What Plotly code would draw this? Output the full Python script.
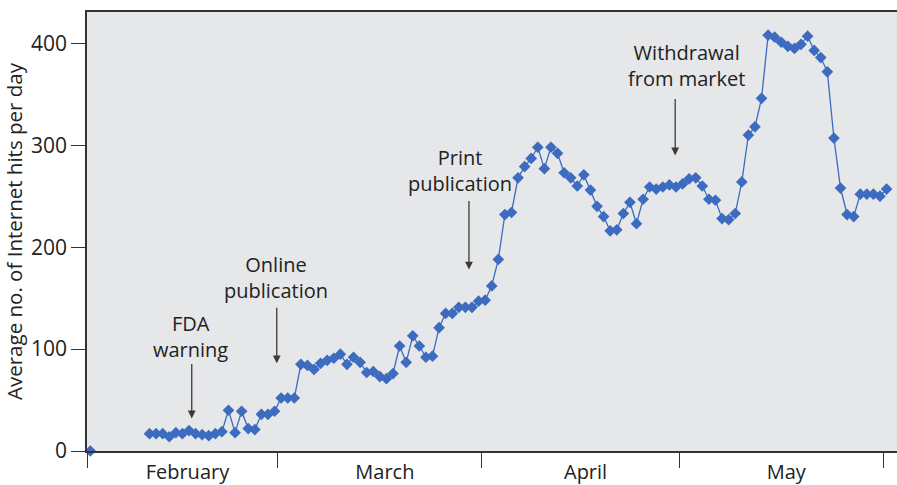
import pandas as pd
import plotly.graph_objects as go

# ---- data -------------------------------------------------------------
first_date = ["2004-02-01 12:00"]
first_value = [0]

series_start = "2004-02-10"
hits = [
    17, 17, 17, 14, 18, 17, 20, 17, 16, 15,
    17, 19, 40, 18, 39, 22, 21, 36, 36, 39,
    52, 52, 52, 85, 84, 80, 86, 89, 91, 95,
    85, 92, 87, 77, 78, 73, 71, 76, 103, 87,
    113, 103, 92, 93, 121, 135, 135, 141, 141, 141,
    147, 148, 162, 188, 232, 234, 268, 279, 287, 298,
    277, 298, 292, 273, 268, 260, 271, 256, 240, 230,
    216, 217, 233, 244, 223, 247, 259, 257, 259, 261,
    259, 262, 267, 268, 260, 247, 246, 228, 227, 233,
    264, 310, 318, 346, 408, 406, 401, 397, 395, 399,
    407, 393, 386, 372, 307, 258, 232, 230, 252, 252,
    252, 250, 257,
]
dates = [
    d.strftime("%Y-%m-%d 12:00")
    for d in pd.date_range(series_start, periods=len(hits), freq="D")
]

y_ticks = [0, 100, 200, 300, 400]
y_title = "Average no. of Internet hits per day"

# events
event_labels = ["FDA<br>warning", "Online<br>publication",
                "Print<br>publication", "Withdrawal<br>from market"]
event_tip_x = ["2004-02-16 22:00", "2004-02-29 20:00",
               "2004-03-30 01:00", "2004-04-30 09:00"]
event_tip_y = [32, 86, 178, 290]
event_text_x = ["2004-02-16 19:00", "2004-02-29 17:00",
                "2004-03-28 16:00", "2004-05-02 00:30"]
event_text_y = [112, 170, 275, 378]
event_arrow_len = [56, 57, 70, 58]

# ---- style ------------------------------------------------------------
FONT = "Open Sans, DejaVu Sans, sans-serif"
TXT = "#222222"
BLUE = "#3c6bc0"
AX = "#333333"

fig = go.Figure()
fig.add_trace(go.Scatter(
    x=first_date, y=first_value, mode="markers",
    marker=dict(symbol="diamond", size=9, color=BLUE),
    cliponaxis=False, showlegend=False,
))
fig.add_trace(go.Scatter(
    x=dates, y=hits, mode="lines+markers",
    line=dict(color=BLUE, width=1.3),
    marker=dict(symbol="diamond", size=9, color=BLUE),
    cliponaxis=False, showlegend=False,
))

annotations = []
for lab, tx, ty, lx, ly, L in zip(event_labels, event_tip_x, event_tip_y,
                                  event_text_x, event_text_y, event_arrow_len):
    annotations.append(dict(
        x=tx, y=ty, xref="x", yref="y", text="", showarrow=True,
        ax=0, ay=-L, arrowhead=2, arrowsize=1.2, arrowwidth=1.3,
        arrowcolor="#3a3a3a",
    ))
    annotations.append(dict(
        x=lx, y=ly, xref="x", yref="y", text=lab, showarrow=False,
        xanchor="center", yanchor="middle", align="center",
        font=dict(family=FONT, size=20, color=TXT),
    ))

fig.update_layout(
    width=897, height=485, autosize=False,
    margin=dict(l=87, r=0, t=12, b=34),
    paper_bgcolor="white", plot_bgcolor="#e6e7e9",
    font=dict(family=FONT, size=20, color=TXT),
    annotations=annotations,
    xaxis=dict(
        type="date", automargin=False,
        range=["2004-02-01", "2004-06-03 02:00"],
        tick0="2004-02-01", dtick="M1", tickformat="%B",
        ticklabelmode="period", ticklabelstandoff=-13, ticklabelshift=5,
        ticks="outside", ticklen=15, tickwidth=1.2, tickcolor=AX,
        showline=True, linecolor=AX, linewidth=1.5, mirror=True,
        showgrid=False, zeroline=False,
        tickfont=dict(family=FONT, size=20, color=TXT),
    ),
    yaxis=dict(
        automargin=False,
        range=[0, 430.7],
        tickvals=y_ticks,
        ticks="outside", ticklen=14, tickwidth=1.2, tickcolor=AX,
        showline=True, linecolor=AX, linewidth=1.5,
        showgrid=False, zeroline=False,
        tickfont=dict(family=FONT, size=21, color=TXT),
        title=dict(text=y_title, font=dict(family=FONT, size=20.5, color=TXT),
                   standoff=3),
    ),
)

post = (
    "document.body.style.margin='0';"
    "document.body.style.padding='0';"
    "document.body.style.overflow='hidden';"
    "var gd=document.getElementById('{plot_id}');"
    "Plotly.relayout(gd,{width:897,height:485});"
)

fig.write_html("out.html",
               config={"responsive": False, "displayModeBar": False},
               post_script=post)
